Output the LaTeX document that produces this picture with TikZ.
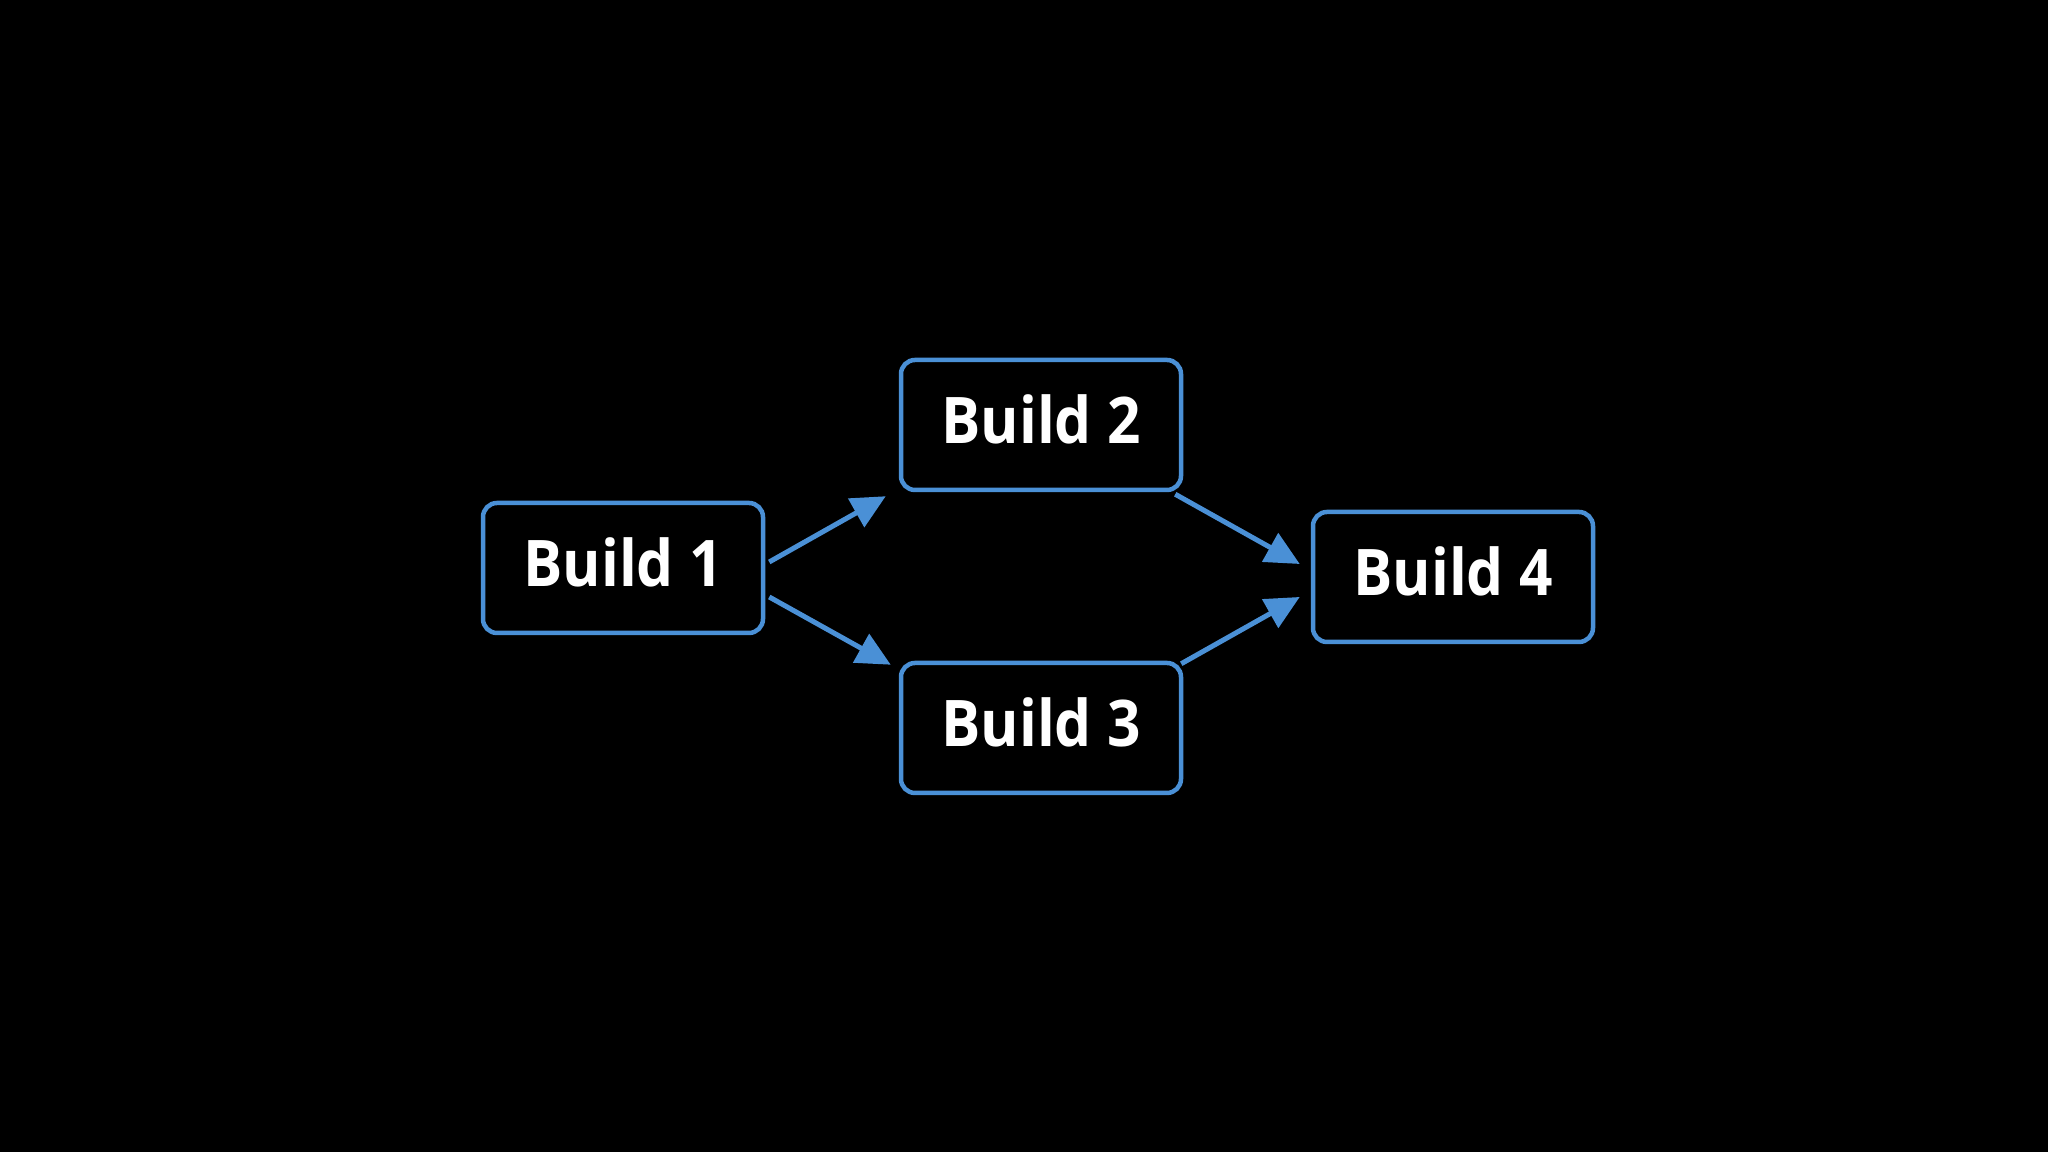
\documentclass[tikz,border=0pt]{standalone}
\usepackage{fontspec}
\setmainfont{Open Sans}
\newfontfamily\boxfont{Open Sans}[FakeStretch=0.91]
\usetikzlibrary{arrows.meta,calc}
\definecolor{sketchblue}{RGB}{74,144,214}
\newcommand{\boxtext}[1]{\raisebox{0.12cm}{#1}}
\tikzset{
  buildbox/.style={draw=sketchblue, line width=0.045cm, rounded corners=0.14cm,
    minimum width=2.80cm, minimum height=1.30cm, inner sep=0pt,
    text=white, font=\boxfont\bfseries\fontsize{18.3pt}{22pt}\selectfont},
  arr/.style={draw=sketchblue, line width=0.05cm,
    -{Triangle[length=0.34cm,width=0.32cm,fill=sketchblue]}}
}
\begin{document}
\begin{tikzpicture}
\fill[black] (0,0) rectangle (20.48,11.52);
\useasboundingbox (0,0) rectangle (20.48,11.52);
\node[buildbox] (b1) at (6.23,5.84) {\boxtext{Build 1}};
\node[buildbox] (b2) at (10.41,7.27) {\boxtext{Build 2}};
\node[buildbox] (b3) at (10.41,4.24) {\boxtext{Build 3}};
\node[buildbox] (b4) at (14.53,5.75) {\boxtext{Build 4}};
\draw[arr] ($(b1.east)+(0.04,0.06)$) -- ($(b2.south west)+(-0.13,-0.04)$);
\draw[arr] ($(b1.east)+(0.04,-0.29)$) -- ($(b3.north west)+(-0.08,-0.04)$);
\draw[arr] ($(b2.south east)+(-0.08,-0.02)$) -- ($(b4.west)+(-0.11,0.13)$);
\draw[arr] ($(b3.north east)+(-0.02,-0.03)$) -- ($(b4.west)+(-0.11,-0.20)$);
\end{tikzpicture}
\end{document}
